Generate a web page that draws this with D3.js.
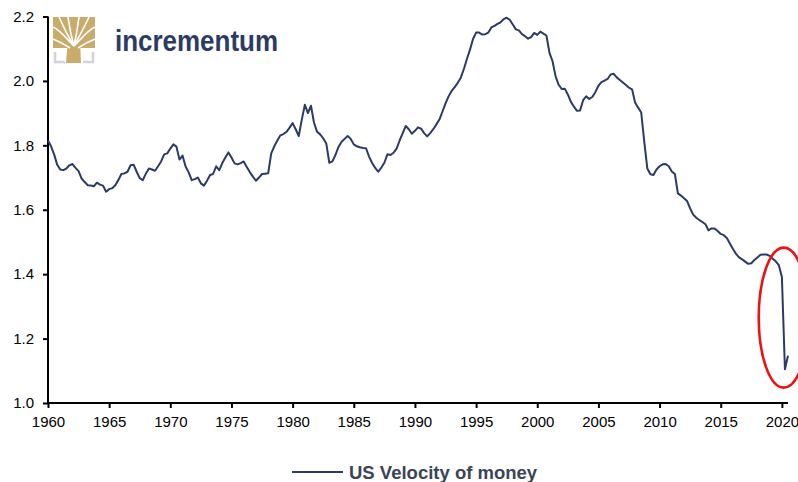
<!DOCTYPE html>
<html>
<head>
<meta charset="utf-8">
<script src="https://cdn.jsdelivr.net/npm/d3@7"></script>
<style>
  body { margin: 0; background: #fff; }
  svg { display: block; font-family: "Liberation Sans", Arial, sans-serif; }
</style>
</head>
<body>
<svg id="chart" width="798" height="482"></svg>
<script>
// US velocity of money (M2), quarterly from 1960 Q1
const startYear = 1960;
const velocity = [
  1.815, 1.797, 1.772, 1.740,  // 1960
  1.725, 1.723, 1.728, 1.738,
  1.742, 1.730, 1.720, 1.697,
  1.686, 1.676, 1.675, 1.673,
  1.684, 1.678, 1.675, 1.656,
  1.664, 1.667, 1.676, 1.692,  // 1965
  1.711, 1.713, 1.718, 1.738,
  1.740, 1.718, 1.698, 1.692,
  1.712, 1.728, 1.725, 1.721,
  1.735, 1.750, 1.772, 1.775,
  1.790, 1.803, 1.796, 1.756,  // 1970
  1.768, 1.734, 1.716, 1.692,
  1.695, 1.700, 1.682, 1.675,
  1.690, 1.708, 1.711, 1.735,
  1.723, 1.745, 1.762, 1.778,
  1.762, 1.744, 1.741, 1.745,  // 1975
  1.750, 1.733, 1.717, 1.703,
  1.690, 1.700, 1.711, 1.712,
  1.713, 1.775, 1.797, 1.815,
  1.831, 1.835, 1.842, 1.855,
  1.869, 1.850, 1.829, 1.880,  // 1980
  1.926, 1.900, 1.923, 1.870,
  1.842, 1.834, 1.822, 1.806,
  1.746, 1.750, 1.770, 1.795,
  1.811, 1.820, 1.829, 1.820,
  1.803, 1.797, 1.794, 1.792,  // 1985
  1.791, 1.765, 1.745, 1.730,
  1.718, 1.731, 1.746, 1.772,
  1.770, 1.777, 1.790, 1.815,
  1.838, 1.860, 1.850, 1.836,
  1.845, 1.856, 1.852, 1.838,  // 1990
  1.828, 1.838, 1.850, 1.865,
  1.880, 1.905, 1.930, 1.952,
  1.969, 1.981, 1.994, 2.010,
  2.037, 2.068, 2.097, 2.130,
  2.150, 2.150, 2.144, 2.145,  // 1995
  2.150, 2.166, 2.171, 2.177,
  2.182, 2.192, 2.196, 2.190,
  2.175, 2.160, 2.157, 2.145,
  2.139, 2.131, 2.136, 2.149,
  2.143, 2.153, 2.147, 2.141,  // 2000
  2.087, 2.061, 2.014, 1.988,
  1.975, 1.976, 1.958, 1.935,
  1.920, 1.907, 1.908, 1.940,
  1.952, 1.944, 1.950, 1.965,
  1.985, 1.996, 2.001, 2.006,  // 2005
  2.020, 2.022, 2.011, 2.003,
  1.995, 1.987, 1.979, 1.974,
  1.933, 1.917, 1.902, 1.811,
  1.728, 1.710, 1.708, 1.725,
  1.735, 1.741, 1.742, 1.735,  // 2010
  1.719, 1.711, 1.651, 1.644,
  1.636, 1.627, 1.604, 1.585,
  1.575, 1.568, 1.562, 1.555,
  1.536, 1.542, 1.542, 1.534,
  1.525, 1.521, 1.512, 1.495,  // 2015
  1.478, 1.463, 1.452, 1.446,
  1.439, 1.432, 1.434, 1.444,
  1.452, 1.460, 1.461, 1.461,
  1.457, 1.448, 1.440, 1.428,
  1.391, 1.105, 1.147          // 2020
];
const yTicks = [1.0, 1.2, 1.4, 1.6, 1.8, 2.0, 2.2];
const xTicks = [1960, 1965, 1970, 1975, 1980, 1985, 1990, 1995, 2000, 2005, 2010, 2015, 2020];
const seriesName = "US Velocity of money";
const brandName = "incrementum";

const data = velocity.map((v, i) => ({ t: startYear + i / 4, v }));

const svg = d3.select('#chart');
const navy = '#2c3b66';
const gold = '#c9ac6c';

const x = d3.scaleLinear().domain([1960, 2020.5]).range([48, 788]);
const y = d3.scaleLinear().domain([1.0, 2.2]).range([403, 16.5]);

// y axis
const yAxis = svg.append('g')
    .attr('transform', `translate(${x(1960)},0)`)
    .call(d3.axisLeft(y).tickValues(yTicks).tickFormat(d3.format('.1f')).tickSize(5).tickPadding(9));

// x axis
const xAxis = svg.append('g')
    .attr('transform', `translate(0,${y(1.0)})`)
    .call(d3.axisBottom(x).tickValues(xTicks).tickFormat(d3.format('d')).tickSize(5).tickPadding(8));

[yAxis, xAxis].forEach(a => {
    a.select('.domain').attr('stroke', '#000').attr('stroke-width', 2);
    a.selectAll('.tick line').attr('stroke', '#000').attr('stroke-width', 2);
    a.selectAll('.tick text').style('font-size', '15px').attr('fill', '#000')
        .style('font-family', '"Liberation Sans", Arial, sans-serif');
});
// domain paths without the outer ticks
yAxis.select('.domain').attr('d', `M0,${y(2.2)}V${y(1.0)}`);
xAxis.select('.domain').attr('d', `M${x(1960)},0H${x(2020.5)}`);

// series line
const line = d3.line().x(d => x(d.t)).y(d => y(d.v));
svg.append('path')
    .datum(data)
    .attr('d', line)
    .attr('fill', 'none')
    .attr('stroke', navy)
    .attr('stroke-width', 2)
    .attr('stroke-linejoin', 'round');

// red highlight round the 2020 drop
svg.append('ellipse')
    .attr('cx', x(2020.15))
    .attr('cy', y(1.265))
    .attr('rx', 25)
    .attr('ry', 70)
    .attr('fill', 'none')
    .attr('stroke', '#ee1111')
    .attr('stroke-width', 2.6);

// logo
const logo = svg.append('g');
logo.append('rect').attr('x', 53).attr('y', 17).attr('width', 42).attr('height', 31).attr('fill', gold);
logo.append('path').attr('d', 'M68,40 L80,40 L81,63 L66,63 Z').attr('fill', gold);
const branches = [
    'M74,46 C66,38 60,30 53,27',
    'M74,46 C66,33 62,24 59,17',
    'M74,46 C70,32 69,24 68,17',
    'M74,46 C77,32 78,24 79,17',
    'M74,46 C81,33 86,24 89,17',
    'M74,46 C82,38 88,30 95,27',
    'M70,48 C64,44 58,41 53,39',
    'M78,48 C84,44 90,41 95,39'
];
logo.selectAll('path.branch').data(branches).enter().append('path')
    .attr('class', 'branch')
    .attr('d', d => d)
    .attr('fill', 'none')
    .attr('stroke', '#fff')
    .attr('stroke-width', 1.6);
logo.append('path').attr('d', 'M55,52 V62 H65').attr('fill', 'none').attr('stroke', '#d4d4d8').attr('stroke-width', 2.5);
logo.append('path').attr('d', 'M93,52 V62 H83').attr('fill', 'none').attr('stroke', '#d4d4d8').attr('stroke-width', 2.5);
logo.append('text')
    .attr('x', 115).attr('y', 51)
    .attr('textLength', 163)
    .attr('lengthAdjust', 'spacingAndGlyphs')
    .style('font-size', '29px')
    .style('font-weight', 'bold')
    .attr('fill', navy)
    .text(brandName);

// legend
const legend = svg.append('g');
legend.append('line')
    .attr('x1', 292).attr('x2', 343).attr('y1', 472).attr('y2', 472)
    .attr('stroke', navy).attr('stroke-width', 2);
legend.append('text')
    .attr('x', 349).attr('y', 478.5)
    .style('font-size', '18.5px')
    .style('font-weight', 'bold')
    .attr('fill', '#3b4456')
    .text(seriesName);
</script>
</body>
</html>
